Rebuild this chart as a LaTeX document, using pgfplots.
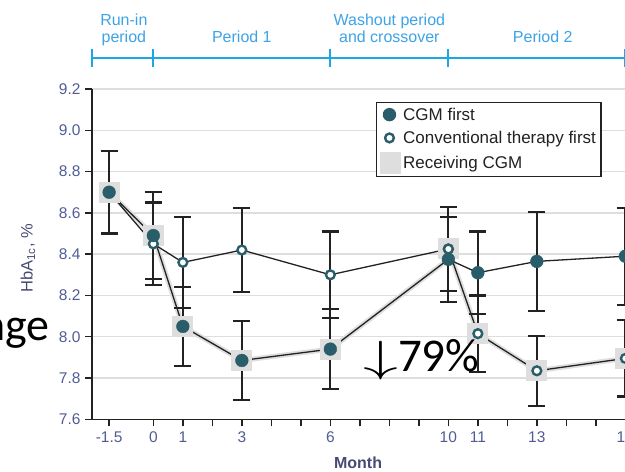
\documentclass[border=0pt]{standalone}
\usepackage{fontspec}
\setmainfont{Liberation Sans}
\newfontfamily\slidefont{Carlito}
\usepackage{graphicx}
\usepackage{pgfplots}
\usepackage{pgfplotstable}
\pgfplotsset{compat=1.18}

\definecolor{cgmteal}{HTML}{2A5D6A}
\definecolor{periodblue}{HTML}{1CA6E3}
\definecolor{periodtext}{HTML}{3DA3E6}
\definecolor{ticktext}{HTML}{505C96}
\definecolor{labeltext}{HTML}{474A72}
\definecolor{recgray}{HTML}{DEDEDE}
\definecolor{gridgray}{HTML}{DEDEDE}
\definecolor{inkblack}{HTML}{222222}

% HbA1c (%) by month, mean and error
\pgfplotstableread{
x     y      err
-1.5  8.70   0.20
0     8.49   0.21
1     8.05   0.19
3     7.885  0.19
6     7.94   0.195
10    8.375  0.205
11    8.31   0.20
13    8.365  0.24
16    8.39   0.235
}\cgmfirst

\pgfplotstableread{
x     y      err
-1.5  8.70   0.20
0     8.45   0.20
1     8.36   0.22
3     8.42   0.205
6     8.30   0.21
10    8.425  0.205
11    8.015  0.185
13    7.835  0.17
16    7.895  0.185
}\convfirst

% stretches on which each group was using CGM
\pgfplotstableread{
x     y
-1.5  8.70
0     8.49
1     8.05
3     7.885
6     7.94
10    8.375
}\cgmband
\pgfplotstableread{
x     y
10    8.425
11    8.015
13    7.835
16    7.895
}\convband
\pgfplotstableread{
x     y
-1.5  8.70
0     8.49
1     8.05
3     7.885
6     7.94
10    8.425
11    8.015
13    7.835
16    7.895
}\recsquares
\pgfplotstableread{
x     y
10    8.425
}\convtop

\begin{document}
\begin{tikzpicture}[x=1pt,y=1pt]
\path[use as bounding box] (0,0) rectangle (625,472);
\clip (0,0) rectangle (625,472);
\begin{axis}[
  at={(92pt,52.7pt)}, anchor=south west,
  scale only axis, width=548.1pt, height=330.3pt,
  xmin=-2.08, xmax=16.5, ymin=7.6, ymax=9.2,
  clip=false,
  axis x line*=bottom, axis y line*=left,
  axis line style={line width=1.5pt, draw=inkblack},
  xtick={-1.5,0,1,2,3,4,5,6,7,8,9,10,11,12,13,14,15,16},
  xticklabels={-1.5,0,1,{},3,{},{},6,{},{},{},10,11,{},13,{},{},16},
  ytick={7.6,7.8,8.0,8.2,8.4,8.6,8.8,9.0,9.2},
  yticklabels={7.6,7.8,8.0,8.2,8.4,8.6,8.8,9.0,9.2},
  tick align=outside, major tick length=7pt,
  tick style={line width=1.5pt, draw=inkblack},
  ticklabel style={font=\fontsize{15.5}{18}\selectfont, text=ticktext},
  xticklabel style={yshift=-2pt},
  yticklabel style={xshift=-1pt},
  ymajorgrids, grid style={line width=1.5pt, draw=gridgray},
  legend style={at={(axis cs:7.55,9.137)}, anchor=north west,
    draw=inkblack, line width=1.4pt, font=\fontsize{17}{19}\selectfont,
    text=inkblack, inner xsep=3pt, inner ysep=3pt, row sep=5.5pt,
    cells={anchor=west}},
  legend cell align=left,
]
% legend entries
\addlegendimage{legend image code/.code={\fill[cgmteal] (12pt,0) circle (6pt);}}
\addlegendentry{CGM first}
\addlegendimage{legend image code/.code={\draw[cgmteal, line width=2.4pt, fill=white] (12pt,0) circle (4.4pt);}}
\addlegendentry{Conventional therapy first}
\addlegendimage{legend image code/.code={\fill[recgray] (3pt,-10pt) rectangle (23pt,10pt);}}
\addlegendentry{Receiving CGM}

% receiving-CGM shading
\addplot[recgray, line width=5pt, forget plot] table[x=x,y=y] {\cgmband};
\addplot[recgray, line width=5pt, forget plot] table[x=x,y=y] {\convband};
\addplot[only marks, mark=square*, mark size=10pt,
  mark options={draw=recgray, fill=recgray, line width=0pt}, forget plot]
  table[x=x,y=y] {\recsquares};

% error bars
\addplot[only marks, mark=none, forget plot,
  error bars/.cd, y dir=both, y explicit,
  error bar style={line width=1.8pt, draw=inkblack},
  error mark options={rotate=90, mark size=8.5pt, line width=2.2pt, draw=inkblack}]
  table[x=x, y=y, y error=err] {\cgmfirst};
\addplot[only marks, mark=none, forget plot,
  error bars/.cd, y dir=both, y explicit,
  error bar style={line width=1.8pt, draw=inkblack},
  error mark options={rotate=90, mark size=8.5pt, line width=2.2pt, draw=inkblack}]
  table[x=x, y=y, y error=err] {\convfirst};

% connecting lines
\addplot[inkblack, line width=1.3pt, forget plot] table[x=x,y=y] {\convfirst};
\addplot[inkblack, line width=1.3pt, forget plot] table[x=x,y=y] {\cgmfirst};

% markers
\addplot[only marks, mark=*, mark size=4.4pt,
  mark options={draw=cgmteal, fill=white, line width=2.4pt}, forget plot]
  table[x=x,y=y] {\convfirst};
\addplot[only marks, mark=*, mark size=6.4pt,
  mark options={draw=cgmteal, fill=cgmteal}, forget plot]
  table[x=x,y=y] {\cgmfirst};
\addplot[only marks, mark=*, mark size=4.4pt,
  mark options={draw=cgmteal, fill=white, line width=2.4pt}, forget plot]
  table[x=x,y=y] {\convtop};

% study periods above the plot
\draw[periodblue, line width=2.4pt] (axis cs:-2.08,9.350) -- (axis cs:16.5,9.350);
\draw[periodblue, line width=2pt] (axis cs:-2.08,9.394) -- (axis cs:-2.08,9.306);
\draw[periodblue, line width=2pt] (axis cs:0,9.394) -- (axis cs:0,9.306);
\draw[periodblue, line width=2pt] (axis cs:6,9.394) -- (axis cs:6,9.306);
\draw[periodblue, line width=2pt] (axis cs:10,9.394) -- (axis cs:10,9.306);
\draw[periodblue, line width=2pt] (axis cs:16,9.394) -- (axis cs:16,9.306);
\begin{scope}[every node/.style={font=\fontsize{16}{18}\selectfont, text=periodtext, anchor=base, inner sep=0pt}]
\node at (axis cs:-1.0,9.510) {Run-in};
\node at (axis cs:-1.0,9.426) {period};
\node at (axis cs:3.0,9.426) {Period 1};
\node at (axis cs:8.0,9.510) {Washout period};
\node at (axis cs:8.0,9.426) {and crossover};
\node at (axis cs:13.2,9.426) {Period 2};
\end{scope}

% axis titles
\node[font=\fontsize{16}{18}\selectfont\bfseries, text=labeltext, anchor=base]
  at (axis cs:6.94,7.6) [yshift=-49pt] {Month};
\node[rotate=90, font=\fontsize{16.5}{18}\selectfont, text=labeltext]
  at (axis cs:-4.25,8.38) {HbA\textsubscript{1c}, \%};
\end{axis}

% slide text over the chart
\node[font=\slidefont\fontsize{46}{50}\selectfont, anchor=base east, inner sep=0pt]
  at (50,131) {nge};
\node[font=\slidefont\fontsize{47}{50}\selectfont, anchor=base west, inner sep=0pt]
  at (363,100.3) {\scalebox{2.8}[1.75]{$\downarrow$}79\%};
\end{tikzpicture}
\end{document}
